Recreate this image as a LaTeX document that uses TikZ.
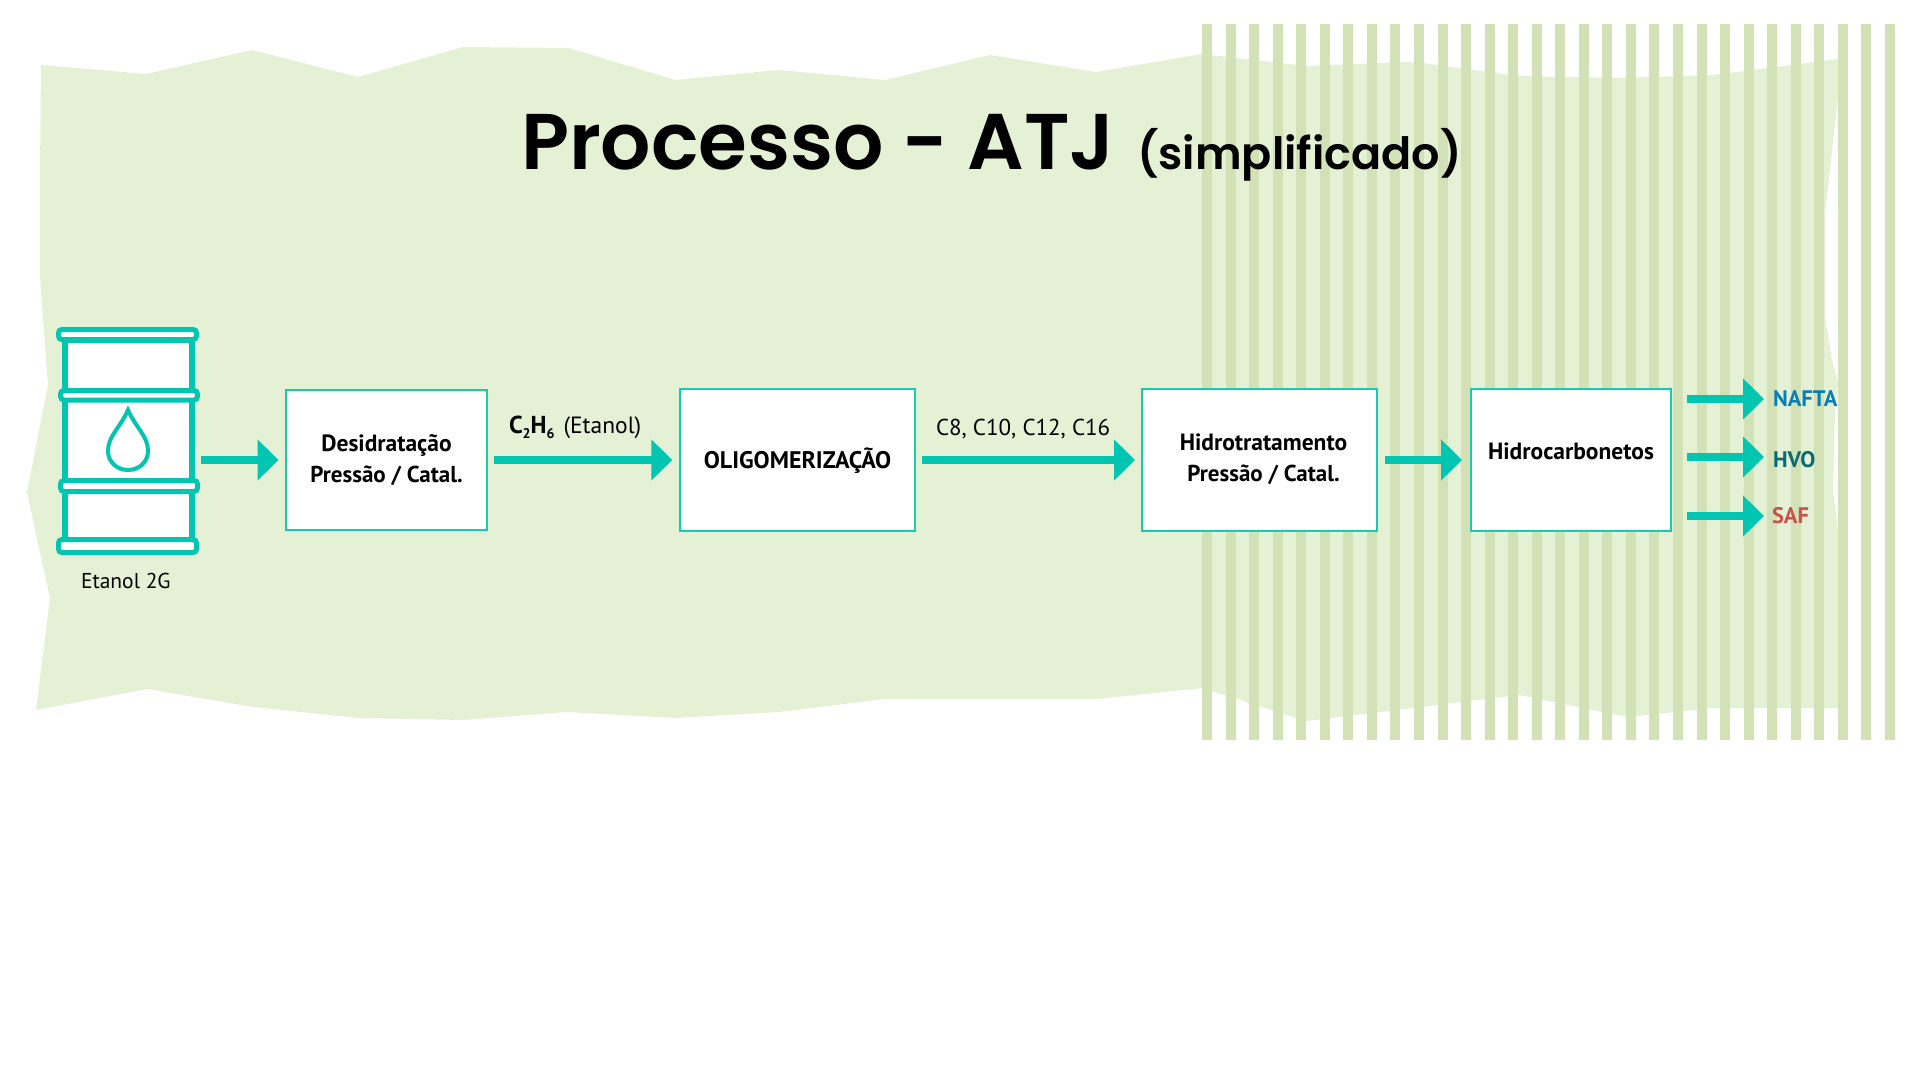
\documentclass[tikz,border=0pt]{standalone}
\usepackage{fontspec}
\usetikzlibrary{arrows.meta}
\setmainfont{PT Sans}
\newfontfamily\ttlfont{Poppins SemiBold}
\definecolor{blob}{HTML}{E5F1D5}
\definecolor{stripe}{HTML}{D3E2B6}
\definecolor{teal}{HTML}{00C5B1}
\definecolor{boxline}{HTML}{14CBB5}
\definecolor{nafta}{HTML}{0A7FB4}
\definecolor{hvo}{HTML}{0B6B72}
\definecolor{saf}{HTML}{C8534A}
\tikzset{
  x=1pt,y=-1pt,
  procbox/.style={draw=boxline,line width=2pt,fill=white,inner sep=0pt,outer sep=0pt,font=\fontsize{23.5}{31}\selectfont\bfseries},
  lbl/.style={inner sep=0pt,outer sep=0pt,anchor=base west,font=\fontsize{23}{26}\selectfont},
  outlbl/.style={lbl,font=\fontsize{22.5}{26}\selectfont\bfseries},
  flow/.style={draw=teal,line width=8pt,-{Triangle[length=21pt,width=40pt]}},
  ring/.style={draw=teal,line width=5pt,fill=white,rounded corners=3.5pt},
}
\newcommand{\lines}[2]{\parbox[b]{180pt}{\centering\baselineskip=31pt #1\\\fontsize{23}{31}\selectfont #2}}
\begin{document}
\begin{tikzpicture}
\useasboundingbox (0,0) rectangle (1921,1081);
\fill[blob] (41,65)--(146,74)--(252,50)--(358,77)--(463,47)--(569,48)--(675,80)--(779,70)--(885,80)--(990,55)--(1096,72)--(1202,54)--(1280,63)--(1307,66)--(1402,62)--(1423,63)--(1517,76)--(1619,78)--(1713,75)--(1838,59)--(1838,97)--(1825,213)--(1825,317)--(1832,360)--(1838,383)--(1835,410)--(1833,490)--(1838,530)--(1838,708)--(1713,708)--(1627,717)--(1519,695)--(1307,721)--(1296,718)--(1202,688)--(1097,699)--(885,699)--(779,712)--(675,718)--(567,712)--(463,720)--(359,718)--(253,707)--(147,689)--(36,710)--(50,598)--(27,492)--(48,385)--(40,277)--(40,173)--cycle;
\foreach \i in {0,...,29} \fill[stripe] ({1202+23.55*\i},24) rectangle ({1212+23.55*\i},740);
% title
\node[lbl,font=\ttlfont\fontsize{79}{90}\selectfont] (title) at (521,169) {Processo - ATJ};
\node[lbl,font=\ttlfont\fontsize{44.5}{60}\selectfont] (subtitle) at (1137,169) {(simplificado)};
% barrel
\node[inner sep=0pt,outer sep=0pt,minimum width=144pt,minimum height=228pt] (barrel) at (128,441) {};
\filldraw[draw=teal,line width=5.5pt,fill=white] (65,340) rectangle (192,540);
\draw[ring] (58.5,329.5) rectangle (196.5,339.5);
\draw[ring] (60.5,390.5) rectangle (197.5,400);
\draw[ring] (60.5,480.5) rectangle (197.5,491.5);
\draw[ring] (58.5,539.5) rectangle (196.5,552.5);
\draw[teal,line width=4pt] (128,410) .. controls (120,428) and (108,436) .. (108,451) .. controls (108,462) and (117,470) .. (128,470) .. controls (139,470) and (148,462) .. (148,451) .. controls (148,436) and (136,428) .. (128,410) -- cycle;
\node[lbl,font=\fontsize{21.5}{26}\selectfont] (etanol) at (81,588) {Etanol 2G};
% boxes
\node[procbox,minimum width=201pt,minimum height=140pt] (b1) at (386.5,460) {\raisebox{-22pt}[0pt][0pt]{\lines{Desidratação}{Pressão / Catal.}}};
\node[procbox,minimum width=234.5pt,minimum height=142pt,font=\fontsize{24}{31}\selectfont\bfseries] (b2) at (797.5,460) {\raisebox{-8pt}[0pt][0pt]{OLIGOMERIZAÇÃO}};
\node[procbox,minimum width=235pt,minimum height=142pt] (b3) at (1259.5,460) {\raisebox{-21pt}[0pt][0pt]{\kern 8pt\lines{Hidrotratamento}{Pressão / Catal.}}};
\node[procbox,minimum width=200pt,minimum height=142pt] (b4) at (1571,460) {\raisebox{1pt}[0pt][0pt]{Hidrocarbonetos}};
% labels
\node[lbl,font=\fontsize{23.5}{26}\selectfont] (c2h6) at (509,433) {{\bfseries\fontsize{24.5}{26}\selectfont C\raisebox{-5pt}{\fontsize{14}{14}\selectfont 2}H\raisebox{-5pt}{\fontsize{14}{14}\selectfont 6}}\hspace{9pt}(Etanol)};
\node[lbl] (cchain) at (936,435) {C8, C10, C12, C16};
\node[outlbl,text=nafta] (naftat) at (1773,406) {NAFTA};
\node[outlbl,text=hvo] (hvot) at (1773,467) {HVO};
\node[outlbl,text=saf] (saft) at (1772,523) {SAF};
% connectors
\draw[flow,shorten <=1pt,shorten >=7.5pt] (barrel.east |- b1.west) -- (b1.west);
\draw[flow,shorten <=7pt,shorten >=8pt] (b1.east) -- (b2.west);
\draw[flow,shorten <=7pt,shorten >=7pt] (b2.east) -- (b3.west);
\draw[flow,shorten <=8pt,shorten >=9pt] (b3.east) -- (b4.west);
\coordinate (onafta) at (b4.east |- 0,399);
\coordinate (ohvo) at (b4.east |- 0,457);
\coordinate (osaf) at (b4.east |- 0,516);
\draw[flow,shorten <=16pt,shorten >=9pt] (onafta) -- (naftat.west |- onafta);
\draw[flow,shorten <=16pt,shorten >=9pt] (ohvo) -- (hvot.west |- ohvo);
\draw[flow,shorten <=16pt,shorten >=8pt] (osaf) -- (saft.west |- osaf);
\end{tikzpicture}
\end{document}
